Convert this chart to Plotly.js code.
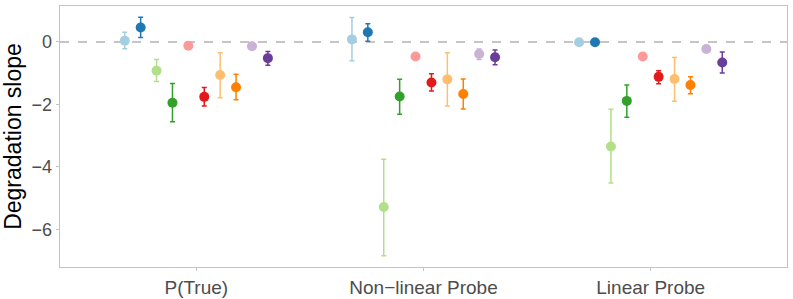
<!DOCTYPE html>
<html>
<head>
<meta charset="utf-8">
<script src="https://cdn.plot.ly/plotly-3.0.1.min.js"></script>
<style>html,body{margin:0;padding:0;background:#fff;}#chart{width:793px;height:299px;}</style>
</head>
<body>
<div id="chart"></div>
<script>
const categories = ["P(True)", "Non\u2212linear Probe", "Linear Probe"];
const seriesNames = ["S1","S2","S3","S4","S5","S6","S7","S8","S9","S10"];
const colors = ["#a6cee3","#1f78b4","#b2df8a","#33a02c","#fb9a99","#e31a1c","#fdbf6f","#ff7f00","#cab2d6","#6a3d9a"];

const s1  = [0.04, 0.08, -0.01],  s1Hi  = [0.31, 0.78, 0.03],   s1Lo  = [-0.22, -0.60, -0.05];
const s2  = [0.46, 0.31, -0.01],  s2Hi  = [0.79, 0.58, 0.02],   s2Lo  = [0.14, 0.02, -0.04];
const s3  = [-0.92, -5.29, -3.35], s3Hi = [-0.56, -3.76, -2.16], s3Lo  = [-1.27, -6.85, -4.52];
const s4  = [-1.95, -1.75, -1.89], s4Hi = [-1.33, -1.20, -1.38], s4Lo  = [-2.56, -2.32, -2.41];
const s5  = [-0.12, -0.47, -0.47], s5Hi = [-0.09, -0.44, -0.44], s5Lo  = [-0.15, -0.50, -0.50];
const s6  = [-1.76, -1.30, -1.12], s6Hi = [-1.46, -1.02, -0.92], s6Lo  = [-2.05, -1.57, -1.34];
const s7  = [-1.06, -1.20, -1.19], s7Hi = [-0.35, -0.35, -0.50], s7Lo  = [-1.79, -2.05, -1.90];
const s8  = [-1.45, -1.67, -1.38], s8Hi = [-1.04, -1.19, -1.12], s8Lo  = [-1.85, -2.15, -1.66];
const s9  = [-0.14, -0.39, -0.23], s9Hi = [-0.11, -0.23, -0.17], s9Lo  = [-0.17, -0.56, -0.29];
const s10 = [-0.52, -0.49, -0.66], s10Hi = [-0.31, -0.26, -0.32], s10Lo = [-0.75, -0.73, -1.00];

const values = [s1,s2,s3,s4,s5,s6,s7,s8,s9,s10];
const his = [s1Hi,s2Hi,s3Hi,s4Hi,s5Hi,s6Hi,s7Hi,s8Hi,s9Hi,s10Hi];
const los = [s1Lo,s2Lo,s3Lo,s4Lo,s5Lo,s6Lo,s7Lo,s8Lo,s9Lo,s10Lo];

const dodge = 0.7;
const n = values.length;
const traces = values.map((v, i) => {
  const off = (i - (n - 1) / 2) * dodge / n;
  return {
    type: "scatter", mode: "markers", name: seriesNames[i],
    x: categories.map((c, j) => j + 1 + off),
    y: v,
    marker: {color: colors[i], size: 10},
    error_y: {type: "data", symmetric: false,
      array: v.map((y, j) => his[i][j] - y),
      arrayminus: v.map((y, j) => y - los[i][j]),
      color: colors[i], thickness: 1.5, width: 2.5},
    hoverinfo: "x+y", showlegend: false
  };
});

const layout = {
  width: 793, height: 299,
  margin: {l: 60, r: 6, t: 6, b: 32},
  paper_bgcolor: "#fff", plot_bgcolor: "#fff",
  font: {family: "Liberation Sans, Arial, sans-serif"},
  showlegend: false,
  xaxis: {range: [0.4, 3.6], tickvals: [1,2,3], ticktext: categories,
    showgrid: false, zeroline: false, showline: true, mirror: true,
    linecolor: "#c4c4c4", linewidth: 1.3, ticks: "outside", ticklen: 3,
    tickcolor: "#c4c4c4", tickfont: {size: 19, color: "#4d4d4d"}},
  yaxis: {range: [-7.21, 1.15], tickvals: [0,-2,-4,-6],
    ticktext: ["0","\u22122","\u22124","\u22126"],
    showgrid: false, zeroline: false, showline: true, mirror: true,
    linecolor: "#c4c4c4", linewidth: 1.3, ticks: "outside", ticklen: 3,
    tickcolor: "#c4c4c4", tickfont: {size: 18, color: "#4d4d4d"},
    title: {text: "Degradation slope", font: {size: 23, color: "#000"}, standoff: 6}},
  shapes: [{type: "line", xref: "paper", x0: 0, x1: 1, yref: "y", y0: 0, y1: 0,
    line: {color: "#b3b3b3", width: 1.5, dash: "dash"}, layer: "below"}]
};

Plotly.newPlot("chart", traces, layout, {displayModeBar: false, staticPlot: true});
</script>
</body>
</html>
